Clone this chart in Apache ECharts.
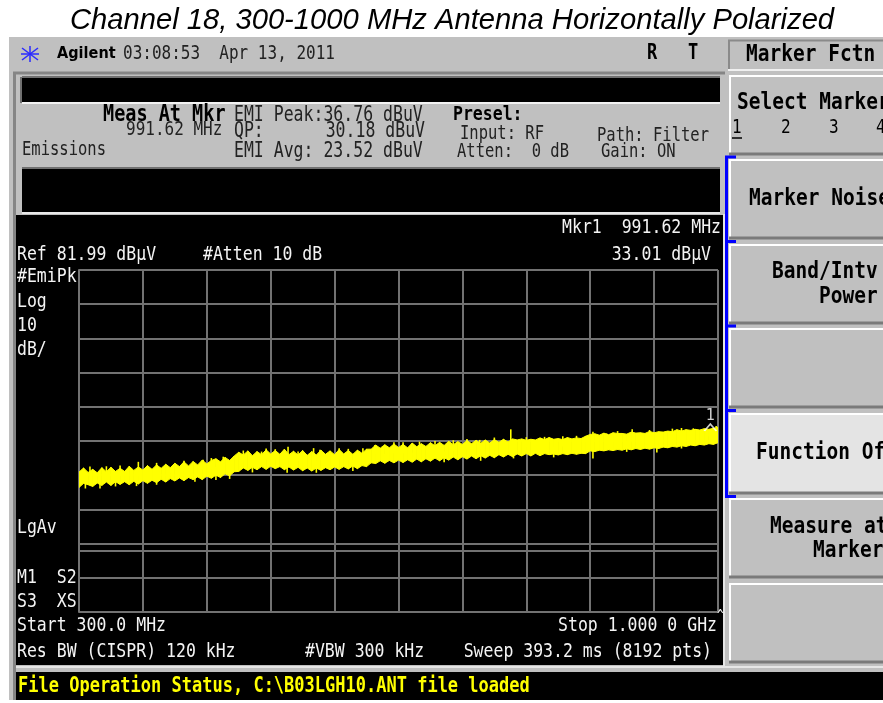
<!DOCTYPE html>
<html>
<head>
<meta charset="utf-8">
<script src="https://cdn.jsdelivr.net/npm/echarts@6/dist/echarts.min.js"></script>
<style>
html, body { margin: 0; padding: 0; background: #fff; }
#chart { width: 883px; height: 703px; }
</style>
</head>
<body>
<div id="chart"></div>
<script>
// sweep settings
var startFreq = 300;      // MHz
var stopFreq = 1000;      // MHz
var refLevel = 81.99;     // dBuV, top of screen
var dbPerDiv = 10;
var divisions = 10;

// trace frequencies (MHz)
var freqs = [300,305,310,315,320,325,330,335,340,345,
  350,355,360,365,370,375,380,385,390,395,
  400,405,410,415,420,425,430,435,440,445,
  450,455,460,465,470,475,480,485,490,495,
  500,505,510,515,520,525,530,535,540,545,
  550,555,560,565,570,575,580,585,590,595,
  600,605,610,615,620,625,630,635,640,645,
  650,655,660,665,670,675,680,685,690,695,
  700,705,710,715,720,725,730,735,740,745,
  750,755,760,765,770,775,780,785,790,795,
  800,805,810,815,820,825,830,835,840,845,
  850,855,860,865,870,875,880,885,890,895,
  900,905,910,915,920,925,930,935,940,945,
  950,955,960,965,970,975,980,985,990,995,
  1000];

// upper edge of the noisy peak trace (dBuV)
var traceHi = [22.9,24.1,22.8,23.7,22.7,24.2,23.0,24.3,23.1,24.0,
  23.1,24.6,23.4,24.4,23.5,24.8,23.7,25.0,24.0,25.2,
  24.2,25.5,24.5,25.9,24.7,26.0,25.0,26.4,25.3,26.3,
  26.8,25.9,27.2,26.3,27.6,28.7,27.9,29.1,27.7,28.9,
  28.0,29.4,28.2,29.2,28.1,29.6,28.0,29.0,27.9,29.2,
  27.8,28.9,27.9,29.3,28.1,29.1,28.0,29.5,28.2,29.2,
  28.1,29.3,28.4,29.6,29.6,30.8,29.9,30.9,30.0,31.1,
  30.1,31.0,30.0,31.4,30.3,31.2,30.4,31.5,30.6,31.6,
  30.7,31.9,30.9,31.8,31.0,32.1,31.2,32.2,31.3,32.3,
  31.4,32.4,31.6,32.5,31.7,32.6,32.3,32.6,32.2,32.5,
  32.3,32.9,32.4,33.0,32.5,32.7,32.4,33.0,32.6,32.9,
  32.7,33.4,33.9,34.1,33.7,34.3,33.8,34.4,34.2,34.2,
  34.0,34.6,34.3,34.4,34.2,34.8,34.4,34.7,34.6,34.9,
  34.7,35.3,34.9,35.3,35.1,35.4,35.2,35.6,35.4,35.7,
  36.0];

// lower edge of the trace (dBuV)
var traceLo = [18.4,19.6,19.2,18.7,19.7,19.0,20.0,19.0,20.1,19.3,
  20.1,19.2,20.2,19.4,20.4,19.6,20.5,19.8,20.8,20.0,
  21.0,20.3,21.2,20.4,21.3,20.7,21.5,20.7,21.7,21.1,
  22.0,21.3,22.4,21.8,23.0,23.1,24.1,23.4,24.3,23.6,
  24.5,23.7,24.6,23.9,24.5,23.6,24.4,23.5,24.3,23.3,
  24.1,23.2,24.1,23.4,24.2,23.6,24.4,23.7,24.5,23.8,
  24.7,23.9,24.8,24.5,25.6,25.4,26.2,25.5,26.3,25.6,
  26.4,25.7,26.5,25.8,26.7,25.9,26.8,26.1,27.0,26.2,
  27.1,26.4,27.3,26.5,27.4,26.7,27.6,26.8,27.7,27.0,
  27.8,27.1,28.0,27.3,28.1,27.4,28.2,27.6,28.3,27.6,
  28.4,27.7,28.3,28.0,28.2,27.9,28.3,28.0,28.4,28.1,
  28.4,28.3,29.1,28.9,29.3,29.1,29.4,29.2,29.5,29.3,
  29.7,29.4,29.8,29.5,29.9,29.6,30.0,29.8,30.2,30.0,
  30.4,30.2,30.6,30.4,30.8,30.6,31.0,30.8,31.2,31.0,
  31.5];

// isolated peaks sticking out of the top of the trace
var peakFreqs = [312,330,345,365,385,400,415,436,445,458,480,500,505,515,529,540,557,564,585,595,
  611,624,645,655,673,690,710,725,739,755,773,790,810,830,845,863,878,890,906,918,925,935,950,960,973,989,998];
var peakLevels = [24.5,24.6,24.8,25.9,25.6,24.0,26.2,26.5,27.0,27.4,29.2,28.9,29.8,29.6,30.3,28.9,29.9,29.4,29.9,29.7,
  29.9,30.8,31.6,31.6,31.8,32.0,32.2,32.6,32.3,33.0,35.4,33.1,33.2,33.4,33.5,34.7,34.2,34.9,35.4,34.2,35.2,34.7,35.6,35.8,35.7,35.2,36.4];

// dips below the trace
var dipFreqs = [307,323,340,363,385,427,450,465,490,528,560,600,635,666,700,740,776,820,863,900,933,960];
var dipLevels = [18.1,18.1,18.7,18.8,19.2,20.1,20.6,20.9,22.8,22.7,22.7,23.2,25.5,25.9,25.8,26.2,26.9,27.2,26.9,28.8,28.6,29.8];

// marker 1
var markerFreq = 991.62;
var markerLevel = 33.01;

var MONO = 'DejaVu Sans Mono';

function txt(x, y, s, o) {
  o = o || {};
  return {
    type: 'text', x: x, y: y, z: 100,
    scaleY: o.sy || 1.2,
    style: {
      text: s, x: 0, y: 0,
      fill: o.color || '#000',
      fontSize: o.size || 16.5,
      fontFamily: o.family || MONO,
      fontWeight: o.bold ? 'bold' : 'normal',
      fontStyle: o.italic ? 'italic' : 'normal',
      textAlign: o.align || 'left', align: o.align || 'left',
      textVerticalAlign: 'middle', verticalAlign: 'middle'
    }
  };
}
function box(x, y, w, h, fill, z) {
  return { type: 'rect', z: z || 1, shape: { x: x, y: y, width: w, height: h }, style: { fill: fill } };
}
function ln(x1, y1, x2, y2, color, w, z) {
  return { type: 'line', z: z || 2, shape: { x1: x1, y1: y1, x2: x2, y2: y2 }, style: { stroke: color, lineWidth: w } };
}
function softKey(top, h, fill) {
  var x0 = 729;
  return [
    box(x0, top, 160, h, fill, 2),
    ln(x0, top + 1, 890, top + 1, '#fff', 2, 3),
    ln(x0 + 1, top, x0 + 1, top + h, '#fff', 2, 3),
    ln(x0, top + h - 1, 890, top + h - 1, '#7a7a7a', 3, 3)
  ];
}

var gfx = [];
// title
gfx.push(txt(452, 21, 'Channel 18, 300-1000 MHz Antenna Horizontally Polarized',
  { family: 'Liberation Sans', size: 29.2, italic: true, align: 'center', sy: 1 }));
// instrument body
gfx.push(box(9, 37, 874, 663, '#c0c0c0', 0));
gfx.push(ln(13, 73, 725, 73, '#858585', 3));
gfx.push(ln(14.5, 72, 14.5, 700, '#858585', 3));
// upper message boxes
gfx.push(box(22, 77, 698, 26, '#000'));
gfx.push(ln(22, 77, 720, 77, '#707070', 2, 3));
gfx.push(ln(21, 77, 21, 103, '#707070', 2, 3));
gfx.push(ln(22, 103, 720, 103, '#f2f2f2', 2, 3));
gfx.push(box(22, 168, 698, 44, '#000'));
gfx.push(ln(22, 168, 720, 168, '#707070', 2, 3));
gfx.push(ln(22, 213, 720, 213, '#e8e8e8', 2, 3));
// display and status bar
gfx.push(box(16, 215, 707, 450, '#000'));
gfx.push(ln(724, 214, 724, 667, '#e6e6e6', 2, 3));
gfx.push(ln(16, 667, 883, 667, '#e6e6e6', 2, 3));
gfx.push(box(16, 672, 867, 28, '#000'));
// soft key title
gfx.push(box(728, 40, 160, 30, '#c0c0c0', 2));
gfx.push(ln(728, 40.5, 890, 40.5, '#8a8a8a', 2, 3));
gfx.push(ln(729, 40, 729, 70, '#8a8a8a', 2, 3));
gfx.push(ln(728, 70, 890, 70, '#f0f0f0', 2, 3));
// soft keys
[75, 159, 244, 328].forEach(function (t) { gfx = gfx.concat(softKey(t, 80, '#c0c0c0')); });
gfx = gfx.concat(softKey(413, 81, '#e4e4e4'));
gfx = gfx.concat(softKey(498, 80, '#c0c0c0'));
gfx = gfx.concat(softKey(583, 80, '#c0c0c0'));
// blue bracket of the active group
gfx.push(ln(726.5, 156, 726.5, 498, '#0000ff', 3, 4));
[157, 241.5, 326, 410.5, 496.5].forEach(function (y) { gfx.push(ln(725, y, 736, y, '#0000ff', 3, 4)); });

// header
gfx.push(ln(22, 48, 38, 60, '#2a2aff', 1.5, 4));
gfx.push(ln(38, 48, 22, 60, '#2a2aff', 1.5, 4));
gfx.push(ln(30, 46, 30, 62, '#2a2aff', 1.5, 4));
gfx.push(ln(21, 54, 39, 54, '#2a2aff', 1.5, 4));
gfx.push(txt(57, 54, 'Agilent', { family: 'DejaVu Sans', bold: true, size: 14.5, sy: 1.15 }));
gfx.push(txt(123, 54, '03:08:53  Apr 13, 2011', { size: 16, color: '#222' }));
gfx.push(txt(647, 54, 'R', { size: 17, bold: true }));
gfx.push(txt(688, 54, 'T', { size: 17, bold: true }));
gfx.push(txt(746, 55, 'Marker Fctn', { size: 19.5, bold: true }));

// soft key labels
gfx.push(txt(737, 103, 'Select Marker', { size: 19.5, bold: true }));
gfx.push(txt(732, 128, '1', { size: 16 }));
gfx.push(ln(732, 138, 742, 138, '#000', 1.5, 5));
gfx.push(txt(781, 128, '2', { size: 16 }));
gfx.push(txt(829, 128, '3', { size: 16 }));
gfx.push(txt(876, 128, '4', { size: 16 }));
gfx.push(txt(749, 199, 'Marker Noise', { size: 19.5, bold: true }));
gfx.push(txt(772, 272, 'Band/Intv', { size: 19.5, bold: true }));
gfx.push(txt(819, 297, 'Power', { size: 19.5, bold: true }));
gfx.push(txt(756, 453, 'Function Off', { size: 19.5, bold: true }));
gfx.push(txt(770, 527, 'Measure at', { size: 19.5, bold: true }));
gfx.push(txt(813, 551, 'Marker', { size: 19.5, bold: true }));

// measurement panel
gfx.push(txt(103, 115, 'Meas At Mkr', { size: 18.5, bold: true }));
gfx.push(txt(126, 130, '991.62 MHz', { size: 16, color: '#222' }));
gfx.push(txt(22, 150, 'Emissions', { size: 15.5, color: '#222', sy: 1.3 }));
gfx.push(txt(234, 115, 'EMI Peak:36.76 dBuV', { size: 16.5, color: '#222', sy: 1.3 }));
gfx.push(txt(234, 131, 'QP:', { size: 16.5, color: '#222', sy: 1.3 }));
gfx.push(txt(425, 131, '30.18 dBuV', { size: 16.5, color: '#222', sy: 1.3, align: 'right' }));
gfx.push(txt(234, 151, 'EMI Avg: 23.52 dBuV', { size: 16.5, color: '#222', sy: 1.3 }));
gfx.push(txt(453, 115, 'Presel:', { size: 16.5, bold: true }));
gfx.push(txt(460, 134, 'Input: RF', { size: 15.5, color: '#222', sy: 1.3 }));
gfx.push(txt(597, 136, 'Path: Filter', { size: 15.5, color: '#222', sy: 1.3 }));
gfx.push(txt(457, 152, 'Atten:  0 dB', { size: 15.5, color: '#222', sy: 1.3 }));
gfx.push(txt(601, 152, 'Gain: ON', { size: 15.5, color: '#222', sy: 1.3 }));

// display annotations
function wt(x, y, s, align) { return txt(x, y, s, { color: '#f4f4f4', align: align }); }
gfx.push(wt(721, 228, 'Mkr1  991.62 MHz', 'right'));
gfx.push(wt(17, 255, 'Ref 81.99 dB\u00b5V'));
gfx.push(wt(203, 255, '#Atten 10 dB'));
gfx.push(wt(711, 255, '33.01 dB\u00b5V', 'right'));
gfx.push(wt(17, 277, '#EmiPk'));
gfx.push(wt(17, 302, 'Log'));
gfx.push(wt(17, 326, '10'));
gfx.push(wt(17, 350, 'dB/'));
gfx.push(wt(17, 528, 'LgAv'));
gfx.push(wt(17, 578, 'M1  S2'));
gfx.push(wt(17, 602, 'S3  XS'));
gfx.push(wt(17, 626, 'Start 300.0 MHz'));
gfx.push(wt(717, 626, 'Stop 1.000 0 GHz', 'right'));
gfx.push(txt(717, 617, '^', { color: '#f4f4f4', size: 11 }));
gfx.push(wt(17, 652, 'Res BW (CISPR) 120 kHz'));
gfx.push(wt(305, 652, '#VBW 300 kHz'));
gfx.push(wt(712, 652, 'Sweep 393.2 ms (8192 pts)', 'right'));
gfx.push(txt(18, 687, 'File Operation Status, C:\\B03LGH10.ANT file loaded', { color: '#ffff00', bold: true, size: 17 }));

// one polygon per step between two trace samples
var bandData = [];
for (var i = 0; i < freqs.length - 1; i++) {
  bandData.push([freqs[i], traceLo[i], traceHi[i], freqs[i + 1], traceLo[i + 1], traceHi[i + 1]]);
}
// middle of the trace at the sample nearest to f
function traceMid(f) {
  var best = 0;
  for (var k = 1; k < freqs.length; k++) {
    if (Math.abs(freqs[k] - f) < Math.abs(freqs[best] - f)) best = k;
  }
  return (traceHi[best] + traceLo[best]) / 2;
}
var spikeData = peakFreqs.map(function (f, k) { return [f, traceMid(f), peakLevels[k]]; })
  .concat(dipFreqs.map(function (f, k) { return [f, traceMid(f), dipLevels[k]]; }));

var gridColor = '#727272';
var chart = echarts.init(document.getElementById('chart'));
chart.setOption({
  backgroundColor: '#fff',
  animation: false,
  graphic: { elements: gfx },
  grid: { left: 79, top: 270, width: 639, height: 342 },
  xAxis: {
    type: 'value',
    z: 3,
    min: startFreq, max: stopFreq,
    interval: (stopFreq - startFreq) / divisions,
    axisLabel: { show: false },
    axisTick: { show: false },
    axisLine: { show: true, lineStyle: { color: gridColor, width: 2 } },
    splitLine: { show: true, lineStyle: { color: gridColor, width: 2 } }
  },
  yAxis: {
    type: 'value',
    z: 3,
    min: refLevel - dbPerDiv * divisions, max: refLevel,
    interval: dbPerDiv,
    axisLabel: { show: false },
    axisTick: { show: false },
    axisLine: { show: true, lineStyle: { color: gridColor, width: 2 } },
    splitLine: { show: true, lineStyle: { color: gridColor, width: 2 } }
  },
  series: [
    {
      type: 'custom',
      name: 'EmiPk',
      z: 5,
      silent: true,
      clip: true,
      encode: { x: [0, 3], y: [1, 2, 4, 5] },
      data: bandData,
      renderItem: function (params, api) {
        var a = api.coord([api.value(0), api.value(2)]);
        var b = api.coord([api.value(3), api.value(5)]);
        var c = api.coord([api.value(3), api.value(4)]);
        var d = api.coord([api.value(0), api.value(1)]);
        return {
          type: 'polygon',
          shape: { points: [a, b, c, d] },
          style: { fill: '#ffff00', stroke: '#ffff00', lineWidth: 1 }
        };
      }
    },
    {
      type: 'custom',
      name: 'EmiPk spikes',
      z: 5,
      silent: true,
      clip: true,
      encode: { x: 0, y: [1, 2] },
      data: spikeData,
      renderItem: function (params, api) {
        var p0 = api.coord([api.value(0), api.value(1)]);
        var p1 = api.coord([api.value(0), api.value(2)]);
        return {
          type: 'line',
          shape: { x1: p0[0], y1: p0[1], x2: p1[0], y2: p1[1] },
          style: { stroke: '#ffff00', lineWidth: 1.6 }
        };
      }
    },
    {
      type: 'scatter',
      name: 'Mkr1',
      z: 6,
      silent: true,
      data: [[markerFreq, markerLevel]],
      symbol: 'path://M0,7 L6,0 L12,7',
      symbolSize: [12, 7],
      symbolOffset: [0, -10],
      itemStyle: { color: 'transparent', borderColor: '#fff', borderWidth: 1.5 },
      label: { show: true, formatter: '1', position: 'top', distance: 0, color: '#fff', fontFamily: MONO, fontSize: 15 }
    }
  ]
});
</script>
</body>
</html>
